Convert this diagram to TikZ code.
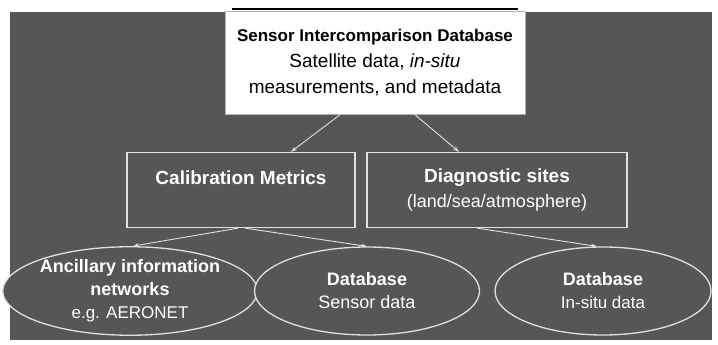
\documentclass[tikz,border=0pt]{standalone}
\usepackage{fontspec}
\setmainfont{Liberation Sans}
\usetikzlibrary{arrows.meta,shapes.geometric}
\definecolor{bggray}{RGB}{86,86,86}
\definecolor{linegray}{RGB}{225,225,225}

\begin{document}
\begin{tikzpicture}[x=1pt,y=-1pt,
	darkbox/.style={draw=linegray,line width=1.3pt,fill=bggray,text=white,align=center,inner sep=2pt,font=\fontsize{19}{25}\selectfont},
	darkoval/.style={ellipse,draw=linegray,line width=1.3pt,fill=bggray,text=white,align=center,inner sep=0pt,font=\fontsize{18}{23}\selectfont},
	link/.style={draw=linegray,line width=0.9pt,-{Stealth[length=6pt,width=4pt]}}]
	\useasboundingbox[fill=white] (0,0) rectangle (718,345);
	\fill[bggray] (10,12) rectangle (712,340);
	\node[draw=gray!60,fill=white,align=center,minimum width=300pt,minimum height=103pt,font=\fontsize{19}{26}\selectfont] (top) at (375,63)
		{{\fontsize{17}{26}\selectfont\bfseries Sensor Intercomparison Database}\\
		 Satellite data, \textit{in-situ}\\
		 measurements, and metadata};
	\draw[line width=2pt] ([xshift=7pt,yshift=2pt]top.north west) -- ([xshift=-7pt,yshift=2pt]top.north east);
	\node[darkbox,minimum width=228pt,minimum height=75pt] (calib) at (241,190)
		{\bfseries Calibration Metrics\\ \mbox{}};
	\node[darkbox,minimum width=260pt,minimum height=75pt] (diag) at (497,190)
		{\bfseries Diagnostic sites\\
		 {\fontsize{18}{25}\selectfont (land/sea/atmosphere)}};
	\node[darkoval,minimum width=230pt,minimum height=88pt] (e1) at (130,291)
		{\bfseries Ancillary information\\
		 \bfseries networks\\
		 {\fontsize{17}{23}\selectfont e.g. AERONET}};
	\node[darkoval,minimum width=225pt,minimum height=88pt] (e2) at (367,291)
		{\bfseries Database\\
		 Sensor data};
	\node[darkoval,minimum width=216pt,minimum height=88pt] (e3) at (603,291)
		{\bfseries Database\\
		 {\fontsize{17}{23}\selectfont In-situ data}};
	\draw[link] ([xshift=-35pt]top.south) -- ([xshift=50pt]calib.north);
	\draw[link] ([xshift=40pt]top.south) -- ([xshift=-38pt]diag.north);
	\draw[link] ([xshift=-3pt]calib.south) -- ([xshift=3pt]e1.north);
	\draw[link] ([xshift=4pt]calib.south) -- (e2.north);
	\draw[link] ([xshift=-20pt]diag.south) -- ([xshift=-6pt]e3.north);
\end{tikzpicture}
\end{document}
